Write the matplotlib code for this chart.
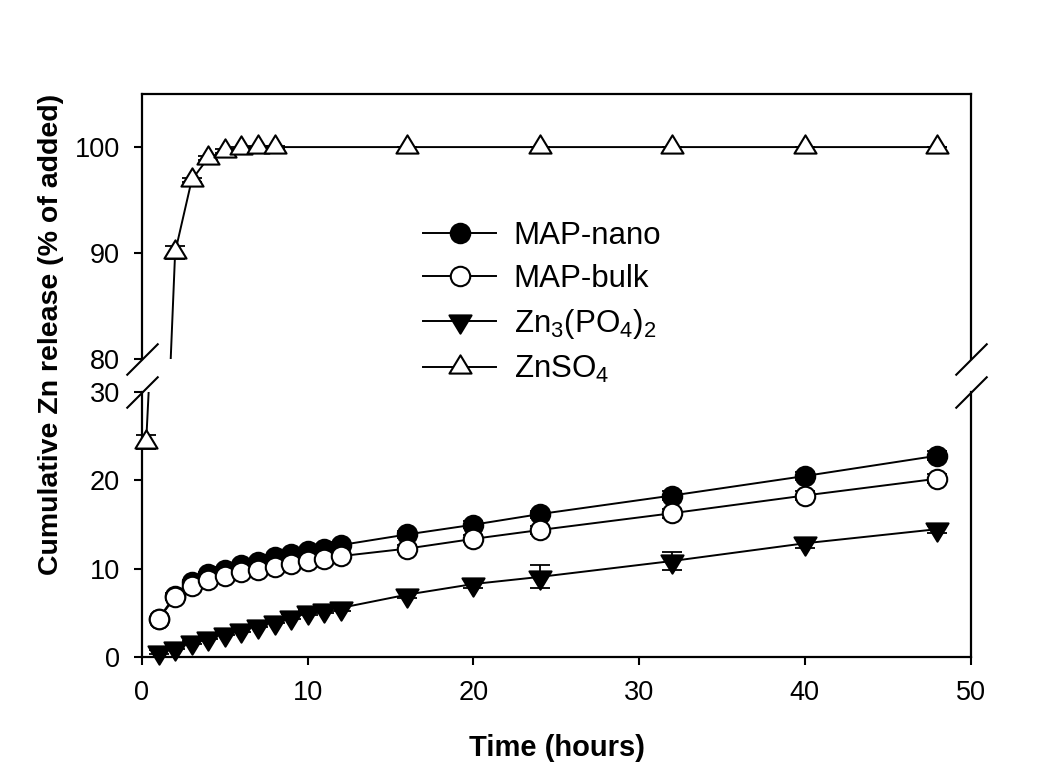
import numpy as np
import matplotlib
matplotlib.use('Agg')
import matplotlib.pyplot as plt
from matplotlib.path import Path
from matplotlib.transforms import Bbox, TransformedBbox

plt.rcParams['font.family'] = ['Liberation Sans', 'DejaVu Sans']
plt.rcParams['mathtext.fontset'] = 'custom'
plt.rcParams['mathtext.rm'] = 'Liberation Sans'
plt.rcParams['mathtext.it'] = 'Liberation Sans:italic'
plt.rcParams['mathtext.bf'] = 'Liberation Sans:bold'

# sampling times (h)
hours = [1, 2, 3, 4, 5, 6, 7, 8, 9, 10, 11, 12, 16, 20, 24, 32, 40, 48]
so4_hours = [0.25, 2, 3, 4, 5, 6, 7, 8, 16, 24, 32, 40, 48]

# cumulative Zn release, % of added
nano = [4.4, 7.0, 8.5, 9.4, 9.9, 10.4, 10.8, 11.3, 11.7, 12.0, 12.3, 12.7,
        13.9, 15.0, 16.2, 18.3, 20.5, 22.8]
nano_err = [0.2, 0.3, 0.3, 0.3, 0.3, 0.3, 0.3, 0.3, 0.3, 0.3, 0.3, 0.3,
            0.4, 0.4, 0.4, 0.5, 0.5, 0.5]
bulk = [4.35, 6.8, 8.05, 8.75, 9.2, 9.65, 9.9, 10.25, 10.55, 10.9, 11.1, 11.45,
        12.3, 13.4, 14.4, 16.3, 18.3, 20.2]
bulk_err = [0.2, 0.3, 0.3, 0.3, 0.3, 0.3, 0.3, 0.3, 0.3, 0.3, 0.3, 0.3,
            0.4, 0.4, 0.4, 0.5, 0.5, 0.5]
zn3 = [0.6, 1.1, 1.7, 2.25, 2.7, 3.1, 3.6, 4.05, 4.6, 5.1, 5.4, 5.6,
       7.1, 8.3, 9.1, 10.9, 12.9, 14.5]
zn3_err = [0.2, 0.2, 0.2, 0.2, 0.2, 0.2, 0.2, 0.2, 0.3, 0.3, 0.4, 0.4,
           0.4, 0.4, 1.3, 1.0, 0.5, 0.4]
so4 = [24.3, 90.1, 96.9, 99.0, 99.6, 99.9, 100.0, 100.0, 100.0, 100.0, 100.0,
       100.0, 100.0]
so4_err = [0.8, 0.6, 0.2, 0.2, 0.2, 0.1, 0.1, 0.1, 0.0, 0.0, 0.0, 0.0, 0.0]

# triangles centred on their centroid
tri_up = Path([(-1, -0.55), (1, -0.55), (0, 1.1), (-1, -0.55)], closed=True)
tri_down = Path([(-1, 0.55), (1, 0.55), (0, -1.1), (-1, 0.55)], closed=True)

series = [
    ('MAP-nano', hours, nano, nano_err, 'o', 'black'),
    ('MAP-bulk', hours, bulk, bulk_err, 'o', 'white'),
    (r'Zn$_3$(PO$_4$)$_2$', hours, zn3, zn3_err, tri_down, 'black'),
    (r'ZnSO$_4$', so4_hours, so4, so4_err, tri_up, 'white'),
]

fig = plt.figure(figsize=(10.38, 7.66), dpi=100)
ax_top = fig.add_axes([0.1368, 0.5307, 0.7982, 0.3466])
ax_bot = fig.add_axes([0.1368, 0.1417, 0.7982, 0.3466])

panels = [(ax_top, (80, 105), (0.0, 1.1)), (ax_bot, (0, 30), (-0.1, 1.0))]

for ax, ylim, (c0, c1) in panels:
    # clip at the break only, let markers spill over the outer frame
    clip = TransformedBbox(Bbox([[-0.05, c0], [1.05, c1]]), ax.transAxes)
    for label, x, y, err, m, fc in series:
        eb = ax.errorbar(x, y, yerr=err, fmt='none', ecolor='black',
                         elinewidth=1.3, capsize=7, capthick=1.3, zorder=2)
        for art in eb.get_children():
            art.set_clip_box(clip)
        ms = 14 if m == 'o' else 17.5
        ln, = ax.plot(x, y, color='black', lw=1.4, marker=m, ms=ms,
                      mfc=fc, mec='black', mew=1.5, label=label, zorder=3)
        ln.set_clip_box(clip)
    ax.set_xlim(0, 50)
    ax.set_ylim(*ylim)
    for s in ax.spines.values():
        s.set_linewidth(1.6)
    ax.tick_params(direction='out', length=6, width=1.5, labelsize=19.5, pad=10,
                   top=False, right=False)

ax_top.spines['bottom'].set_visible(False)
ax_top.set_yticks([80, 90, 100])
ax_top.tick_params(axis='x', bottom=False, labelbottom=False)

ax_bot.spines['top'].set_visible(False)
ax_bot.set_yticks([0, 10, 20, 30])
ax_bot.set_xticks([0, 10, 20, 30, 40, 50])

# break marks on both sides
slash = [(-1, -1), (1, 1)]
kw = dict(marker=slash, ms=23, ls='none', color='black', mec='black',
          mew=1.5, clip_on=False)
ax_top.plot([0, 1], [0, 0], transform=ax_top.transAxes, **kw)
ax_bot.plot([0, 1], [1, 1], transform=ax_bot.transAxes, **kw)

fig.text(51 / 1038, 1 - 334 / 766, 'Cumulative Zn release (% of added)',
         rotation=90, ha='center', va='center', fontsize=20.5, fontweight='bold')
fig.text(557 / 1038, 1 - 748 / 766, 'Time (hours)', ha='center', va='center',
         fontsize=21, fontweight='bold')

handles, labels = ax_bot.get_legend_handles_labels()
fig.legend(handles, labels, loc='upper left',
           bbox_to_anchor=(423 / 1038, 1 - 221 / 766), frameon=False,
           fontsize=22.5, handlelength=2.35, handletextpad=0.55, labelspacing=0.42,
           borderpad=0, borderaxespad=0, numpoints=1)

fig.savefig('out.png', dpi=100)
